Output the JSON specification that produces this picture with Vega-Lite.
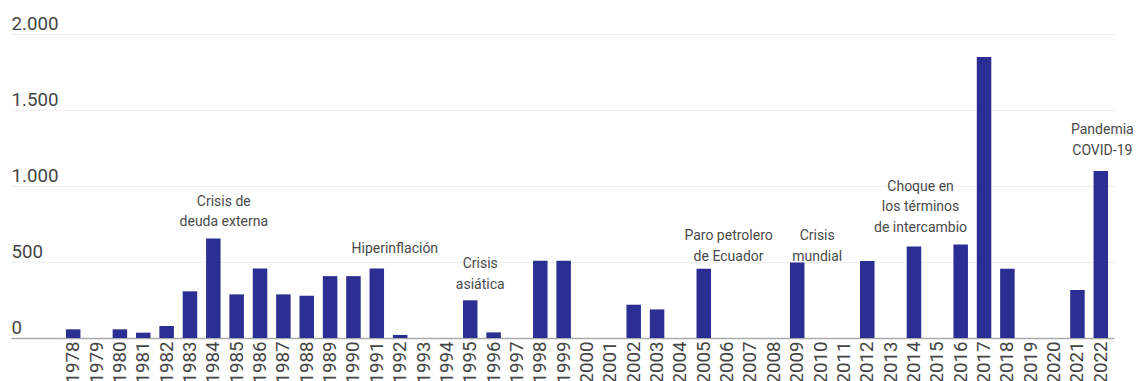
{
  "$schema": "https://vega.github.io/schema/vega-lite/v6.json",
  "width": 1054,
  "height": 304,
  "autosize": {"type": "none"},
  "padding": {"left": 60, "top": 34, "right": 22, "bottom": 43},
  "background": "white",
  "config": {"view": {"stroke": null}, "font": "Roboto"},
  "datasets": {
    "serie": [
      {"anio": "1978", "valor": 57},
      {"anio": "1979", "valor": 0},
      {"anio": "1980", "valor": 57},
      {"anio": "1981", "valor": 35},
      {"anio": "1982", "valor": 79},
      {"anio": "1983", "valor": 307},
      {"anio": "1984", "valor": 655},
      {"anio": "1985", "valor": 287},
      {"anio": "1986", "valor": 458},
      {"anio": "1987", "valor": 287},
      {"anio": "1988", "valor": 278},
      {"anio": "1989", "valor": 407},
      {"anio": "1990", "valor": 407},
      {"anio": "1991", "valor": 458},
      {"anio": "1992", "valor": 20},
      {"anio": "1993", "valor": 0},
      {"anio": "1994", "valor": 0},
      {"anio": "1995", "valor": 248},
      {"anio": "1996", "valor": 37},
      {"anio": "1997", "valor": 0},
      {"anio": "1998", "valor": 508},
      {"anio": "1999", "valor": 508},
      {"anio": "2000", "valor": 0},
      {"anio": "2001", "valor": 0},
      {"anio": "2002", "valor": 219},
      {"anio": "2003", "valor": 188},
      {"anio": "2004", "valor": 0},
      {"anio": "2005", "valor": 455},
      {"anio": "2006", "valor": 0},
      {"anio": "2007", "valor": 0},
      {"anio": "2008", "valor": 0},
      {"anio": "2009", "valor": 497},
      {"anio": "2010", "valor": 0},
      {"anio": "2011", "valor": 0},
      {"anio": "2012", "valor": 506},
      {"anio": "2013", "valor": 0},
      {"anio": "2014", "valor": 602},
      {"anio": "2015", "valor": 0},
      {"anio": "2016", "valor": 615},
      {"anio": "2017", "valor": 1848},
      {"anio": "2018", "valor": 455},
      {"anio": "2019", "valor": 0},
      {"anio": "2020", "valor": 0},
      {"anio": "2021", "valor": 315},
      {"anio": "2022", "valor": 1099}
    ],
    "notas": [
      {"id": 1, "anio": "1984", "nivel": 869, "texto": "Crisis de\ndeuda externa"},
      {"id": 2, "anio": "1991", "nivel": 556, "texto": "Hiperinflación"},
      {"id": 3, "anio": "1995", "nivel": 458, "texto": "Crisis\nasiática"},
      {"id": 4, "anio": "2005", "nivel": 644, "texto": "Paro petrolero\nde Ecuador"},
      {"id": 5, "anio": "2009", "nivel": 644, "texto": "Crisis\nmundial"},
      {"id": 6, "anio": "2014", "nivel": 968, "texto": "Choque en\nlos términos\nde intercambio"},
      {"id": 7, "anio": "2022", "nivel": 1341, "texto": "Pandemia\nCOVID-19"}
    ]
  },
  "layer": [
    {
      "data": {"name": "serie"},
      "mark": {"type": "bar", "color": "#2b2e92"},
      "encoding": {
        "x": {
          "field": "anio",
          "type": "ordinal",
          "title": null,
          "scale": {"paddingInner": 0.379, "paddingOuter": 0.254},
          "axis": {
            "labelAngle": -90,
            "labelAlign": "right",
            "labelBaseline": "middle",
            "labelPadding": 3,
            "labelOverlap": false,
            "ticks": false,
            "domain": true,
            "domainColor": "#aaaaaa",
            "domainWidth": 1.5,
            "grid": false,
            "labelFont": "Roboto",
            "labelFontSize": 18.7,
            "labelColor": "#444444"
          }
        },
        "y": {
          "field": "valor",
          "type": "quantitative",
          "title": null,
          "scale": {"domain": [0, 2000], "nice": false},
          "axis": {
            "values": [0, 500, 1000, 1500, 2000],
            "domain": false,
            "grid": true,
            "gridColor": "#efefef",
            "gridWidth": 1,
            "ticks": true,
            "tickSize": 49,
            "tickColor": {"condition": {"test": "datum.value === 0", "value": "#aaaaaa"}, "value": "#efefef"},
            "tickWidth": {"condition": {"test": "datum.value === 0", "value": 1.5}, "value": 1},
            "labelAlign": "left",
            "labelBaseline": "alphabetic",
            "labelPadding": 0,
            "labelOffset": -5,
            "labelFont": "Roboto",
            "labelFontSize": 18.7,
            "labelColor": "#444444",
            "labelExpr": "replace(format(datum.value, ','), ',', '.')"
          }
        }
      }
    },
    {
      "data": {"name": "notas"},
      "transform": [{"filter": "datum.id === 1"}],
      "mark": {"type": "text", "align": "center", "baseline": "alphabetic", "lineBreak": "\n", "lineHeight": 20.5, "font": "Roboto", "fontSize": 14, "color": "#4a4a4a", "dx": 10.5},
      "encoding": {"x": {"field": "anio", "type": "ordinal"}, "y": {"field": "nivel", "type": "quantitative"}, "text": {"field": "texto"}}
    },
    {
      "data": {"name": "notas"},
      "transform": [{"filter": "datum.id === 2"}],
      "mark": {"type": "text", "align": "center", "baseline": "alphabetic", "lineBreak": "\n", "lineHeight": 20.5, "font": "Roboto", "fontSize": 14, "color": "#4a4a4a", "dx": 18},
      "encoding": {"x": {"field": "anio", "type": "ordinal"}, "y": {"field": "nivel", "type": "quantitative"}, "text": {"field": "texto"}}
    },
    {
      "data": {"name": "notas"},
      "transform": [{"filter": "datum.id === 3"}],
      "mark": {"type": "text", "align": "center", "baseline": "alphabetic", "lineBreak": "\n", "lineHeight": 20.5, "font": "Roboto", "fontSize": 14, "color": "#4a4a4a", "dx": 10},
      "encoding": {"x": {"field": "anio", "type": "ordinal"}, "y": {"field": "nivel", "type": "quantitative"}, "text": {"field": "texto"}}
    },
    {
      "data": {"name": "notas"},
      "transform": [{"filter": "datum.id === 4"}],
      "mark": {"type": "text", "align": "center", "baseline": "alphabetic", "lineBreak": "\n", "lineHeight": 20.5, "font": "Roboto", "fontSize": 14, "color": "#4a4a4a", "dx": 24.8},
      "encoding": {"x": {"field": "anio", "type": "ordinal"}, "y": {"field": "nivel", "type": "quantitative"}, "text": {"field": "texto"}}
    },
    {
      "data": {"name": "notas"},
      "transform": [{"filter": "datum.id === 5"}],
      "mark": {"type": "text", "align": "center", "baseline": "alphabetic", "lineBreak": "\n", "lineHeight": 20.5, "font": "Roboto", "fontSize": 14, "color": "#4a4a4a", "dx": 20},
      "encoding": {"x": {"field": "anio", "type": "ordinal"}, "y": {"field": "nivel", "type": "quantitative"}, "text": {"field": "texto"}}
    },
    {
      "data": {"name": "notas"},
      "transform": [{"filter": "datum.id === 6"}],
      "mark": {"type": "text", "align": "center", "baseline": "alphabetic", "lineBreak": "\n", "lineHeight": 20.5, "font": "Roboto", "fontSize": 14, "color": "#4a4a4a", "dx": 6.6},
      "encoding": {"x": {"field": "anio", "type": "ordinal"}, "y": {"field": "nivel", "type": "quantitative"}, "text": {"field": "texto"}}
    },
    {
      "data": {"name": "notas"},
      "transform": [{"filter": "datum.id === 7"}],
      "mark": {"type": "text", "align": "center", "baseline": "alphabetic", "lineBreak": "\n", "lineHeight": 20.5, "font": "Roboto", "fontSize": 14, "color": "#4a4a4a", "dx": 1.5},
      "encoding": {"x": {"field": "anio", "type": "ordinal"}, "y": {"field": "nivel", "type": "quantitative"}, "text": {"field": "texto"}}
    }
  ]
}
